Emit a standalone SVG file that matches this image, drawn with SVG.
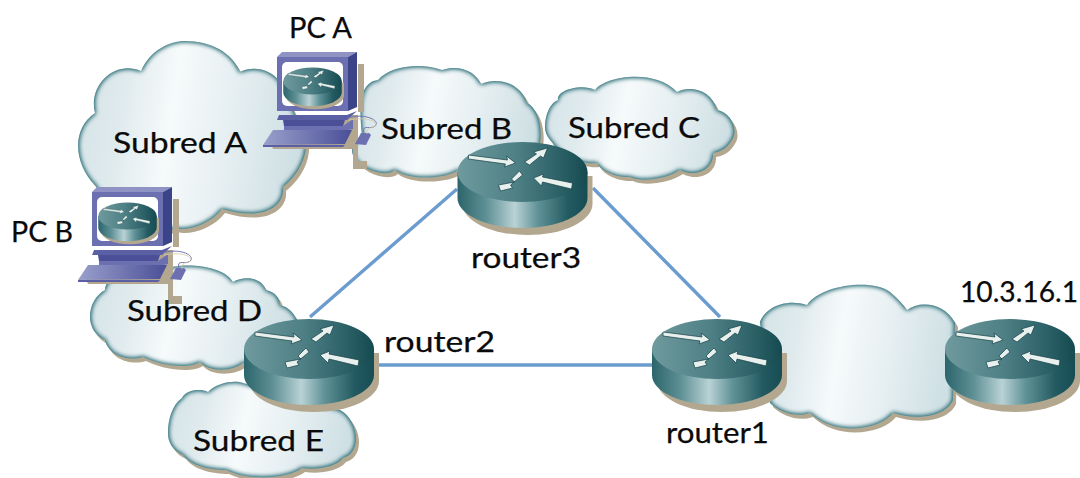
<svg xmlns="http://www.w3.org/2000/svg" xmlns:xlink="http://www.w3.org/1999/xlink" width="1080" height="478" viewBox="0 0 1080 478">
<style>
.cloud{fill:url(#cloudFill);filter:url(#cloudFx)}
.lbl{font-family:"Lato","Open Sans",sans-serif;font-size:29px;fill:#0a0a0a;stroke:#0a0a0a;stroke-width:.25}
.link{stroke:#6b9ccf;stroke-width:3.4;fill:none}
.arrow{fill:#e9f1ee;stroke:#123f45;stroke-width:.7}
</style>
<defs>
<linearGradient id="cloudFill" x1="0" y1="0" x2="1" y2="0.12">
<stop offset="0" stop-color="#d3e3e7"/><stop offset=".22" stop-color="#dfeaed"/><stop offset=".45" stop-color="#f6fafb"/><stop offset=".75" stop-color="#e3edf0"/><stop offset="1" stop-color="#cfe0e4"/>
</linearGradient>
<filter id="cloudFx" x="-10%" y="-10%" width="120%" height="120%" color-interpolation-filters="sRGB">
<feOffset in="SourceAlpha" dx="3" dy="4" result="o"/>
<feFlood flood-color="#b3a88f"/><feComposite in2="o" operator="in" result="shadow"/>
<feGaussianBlur in="SourceAlpha" stdDeviation="2.6" result="b"/>
<feComposite in="SourceAlpha" in2="b" operator="out" result="e"/>
<feFlood flood-color="#1f6670"/><feComposite in2="e" operator="in" result="edge"/>
<feMerge><feMergeNode in="shadow"/><feMergeNode in="SourceGraphic"/><feMergeNode in="edge"/><feMergeNode in="edge"/></feMerge>
</filter>
<linearGradient id="rTop" x1="0" y1="0" x2="1" y2="0">
<stop offset="0" stop-color="#6f9a9e"/><stop offset=".45" stop-color="#4e8085"/><stop offset=".8" stop-color="#2a5f66"/><stop offset="1" stop-color="#154a51"/>
</linearGradient>
<linearGradient id="rSide" x1="0" y1="0" x2="1" y2="0">
<stop offset="0" stop-color="#2b656b"/><stop offset=".22" stop-color="#5e9095"/><stop offset=".44" stop-color="#b9d2d5"/><stop offset=".62" stop-color="#5f9297"/><stop offset=".85" stop-color="#235a61"/><stop offset="1" stop-color="#174c53"/>
</linearGradient>
<linearGradient id="kb" x1="0" y1="0" x2="1" y2="0">
<stop offset="0" stop-color="#9aa0cb"/><stop offset="1" stop-color="#4a4f98"/>
</linearGradient>
<g id="router">
<path d="M-60 4V32A65 31 0 0 0 70 32V4Z" fill="#b3a88f"/>
<path d="M-65 0V26A65 30 0 0 0 65 26V0Z" fill="url(#rSide)"/>
<ellipse rx="65" ry="30" fill="url(#rTop)"/>
<path class="arrow" d="M-54 -17L-15 -12L-16 -16L-7 -9L-18 -5L-17 -8L-54 -13Z"/>
<path class="arrow" d="M2 -10L14 -18L11 -20L25 -24L21 -14L18 -16L7 -7Z"/>
<path class="arrow" d="M50 11L20 5L21 2L11 6L19 14L20 10L49 17Z"/>
<path class="arrow" d="M-3 -1L-11 7L-8 10L-24 13L-22 19L-10 16L-12 13L0 3Z"/>
</g>
<g id="pc">
<path d="M14 58H81V104H90V112H76V92H14Z" fill="#b3a88f" transform="translate(0,0)"/>
<path d="M81 7H87V55H81Z" fill="#b3a88f"/>
<path d="M-8 82H62L67 92H-4Z" fill="#b3a88f"/>
<path d="M0 0L5 -5H80L71 0Z" fill="#8e93c4"/>
<path d="M71 0L80 -5V50L71 54Z" fill="#3c4489"/>
<rect width="71" height="54" fill="#6c70b0"/>
<rect x="5" y="5" width="61" height="44" rx="5" fill="#fff"/>
<path d="M2 58L0 63H70L80 54L70 58Z" fill="#5b5fa4"/>
<path d="M6 63H68L66 69H7Z" fill="#4a4f98"/>
<path d="M7 69H66L76 62V72L66 74H7Z" fill="#6c70b0"/>
<path d="M-14 88L-4 73H75L68 87Z" fill="url(#kb)"/>
<path d="M-14 88H68L66 90H-14Z" fill="#5b5fa4"/>
<path d="M78 87L84 76H92L94 78L89 88Z" fill="#6c70b0"/>
<path d="M71 61C85 56 102 62 99 68C95 74 84 66 87 76" fill="none" stroke="#7276b5" stroke-width="1"/>
<path d="M72 63C88 60 97 63 99 67C101 72 88 68 90 77" fill="none" stroke="#d8c9a8" stroke-width=".8"/>
</g>
</defs>
<rect width="1080" height="478" fill="#fff"/>

<g id="subred-a"><path class="cloud" d="M141 71C150 50 170 41 185 41C210 41 232 52 240 72C252 66 270 68 280 82L300 125C310 135 310 165 283 187C285 205 265 222 222 209C210 225 185 232 175 228C160 235 120 225 95 185C75 165 70 130 95 113C88 85 115 60 141 71Z"/></g>
<g id="subred-b"><path class="cloud" d="M362 135C358 100 362 82 378 80C390 66 420 62 442 70C460 64 476 72 481 84C500 76 522 85 527 103C542 110 547 145 530 165C520 182 480 175 458 170C450 178 410 182 395 170C385 178 360 170 353 155C350 148 355 140 362 135Z"/></g>
<g id="subred-c"><path class="cloud" d="M545 127C545 115 550 103 558 100C556 90 582 83 595 90C605 76 655 68 677 92C690 85 712 90 717 110C730 112 738 128 733 138C728 148 720 152 713 153C714 170 695 178 680 170C665 180 640 182 630 177C615 178 600 170 597 163C580 165 560 155 552 142C548 138 545 133 545 127Z"/></g>
<g id="subred-d"><path class="cloud" d="M90 317C90 305 96 295 105 290C105 275 140 262 160 272C170 262 222 262 233 282C245 275 262 278 266 290C275 292 280 298 280 305C288 307 293 312 297 320L290 360L243 363C232 372 208 372 200 362C188 370 158 365 143 357C128 362 108 355 105 340C95 336 90 326 90 317Z"/></g>
<g id="subred-e"><path class="cloud" d="M168 433C168 420 172 405 182 398C186 390 200 388 208 392C218 382 235 380 243 383L340 410C350 415 356 428 356 438C356 450 350 456 343 458C335 468 315 470 302 468C290 478 250 482 226 470C208 470 190 465 183 455C172 450 168 442 168 433Z"/></g>
<g id="cloud-wan"><path class="cloud" d="M760 322C765 308 785 298 807 305C820 285 872 278 890 292C897 298 903 304 907 310C920 300 945 303 955 323L953 400C945 418 915 420 893 413C880 430 835 437 810 413C795 418 780 412 770 403Z"/></g>

<g id="connectors">
<line class="link" x1="457" y1="189" x2="310" y2="317"/>
<line class="link" x1="593" y1="188" x2="720" y2="317"/>
<line class="link" x1="376" y1="365" x2="653" y2="365"/>
</g>

<g id="router3"><use href="#router" xlink:href="#router" x="522.5" y="172"/></g>
<g id="router2"><use href="#router" xlink:href="#router" x="309" y="349"/></g>
<g id="router1"><use href="#router" xlink:href="#router" x="717" y="349"/></g>
<g id="router4"><use href="#router" xlink:href="#router" x="1010" y="349"/></g>

<g id="pc-a"><g transform="translate(277,57)"><use href="#pc" xlink:href="#pc"/><use href="#router" xlink:href="#router" transform="translate(35.5,24) scale(.45)"/></g></g>
<g id="pc-b"><g transform="translate(92,192)"><use href="#pc" xlink:href="#pc"/><use href="#router" xlink:href="#router" transform="translate(35.5,24) scale(.45)"/></g></g>

<g id="labels">
<text class="lbl" x="289" y="38" textLength="63" lengthAdjust="spacingAndGlyphs">PC A</text>
<text class="lbl" x="11" y="242" textLength="62" lengthAdjust="spacingAndGlyphs">PC B</text>
<text class="lbl" x="113" y="153" textLength="134" lengthAdjust="spacingAndGlyphs">Subred A</text>
<text class="lbl" x="381" y="139" textLength="131" lengthAdjust="spacingAndGlyphs">Subred B</text>
<text class="lbl" x="568" y="138" textLength="132" lengthAdjust="spacingAndGlyphs">Subred C</text>
<text class="lbl" x="127" y="321" textLength="135" lengthAdjust="spacingAndGlyphs">Subred D</text>
<text class="lbl" x="193" y="451" textLength="131" lengthAdjust="spacingAndGlyphs">Subred E</text>
<text class="lbl" x="471" y="268" textLength="110" lengthAdjust="spacingAndGlyphs">router3</text>
<text class="lbl" x="384" y="352" textLength="111" lengthAdjust="spacingAndGlyphs">router2</text>
<text class="lbl" x="666" y="443" textLength="103" lengthAdjust="spacingAndGlyphs">router1</text>
<text class="lbl" x="960" y="302" textLength="118" lengthAdjust="spacingAndGlyphs">10.3.16.1</text>
</g>
</svg>
